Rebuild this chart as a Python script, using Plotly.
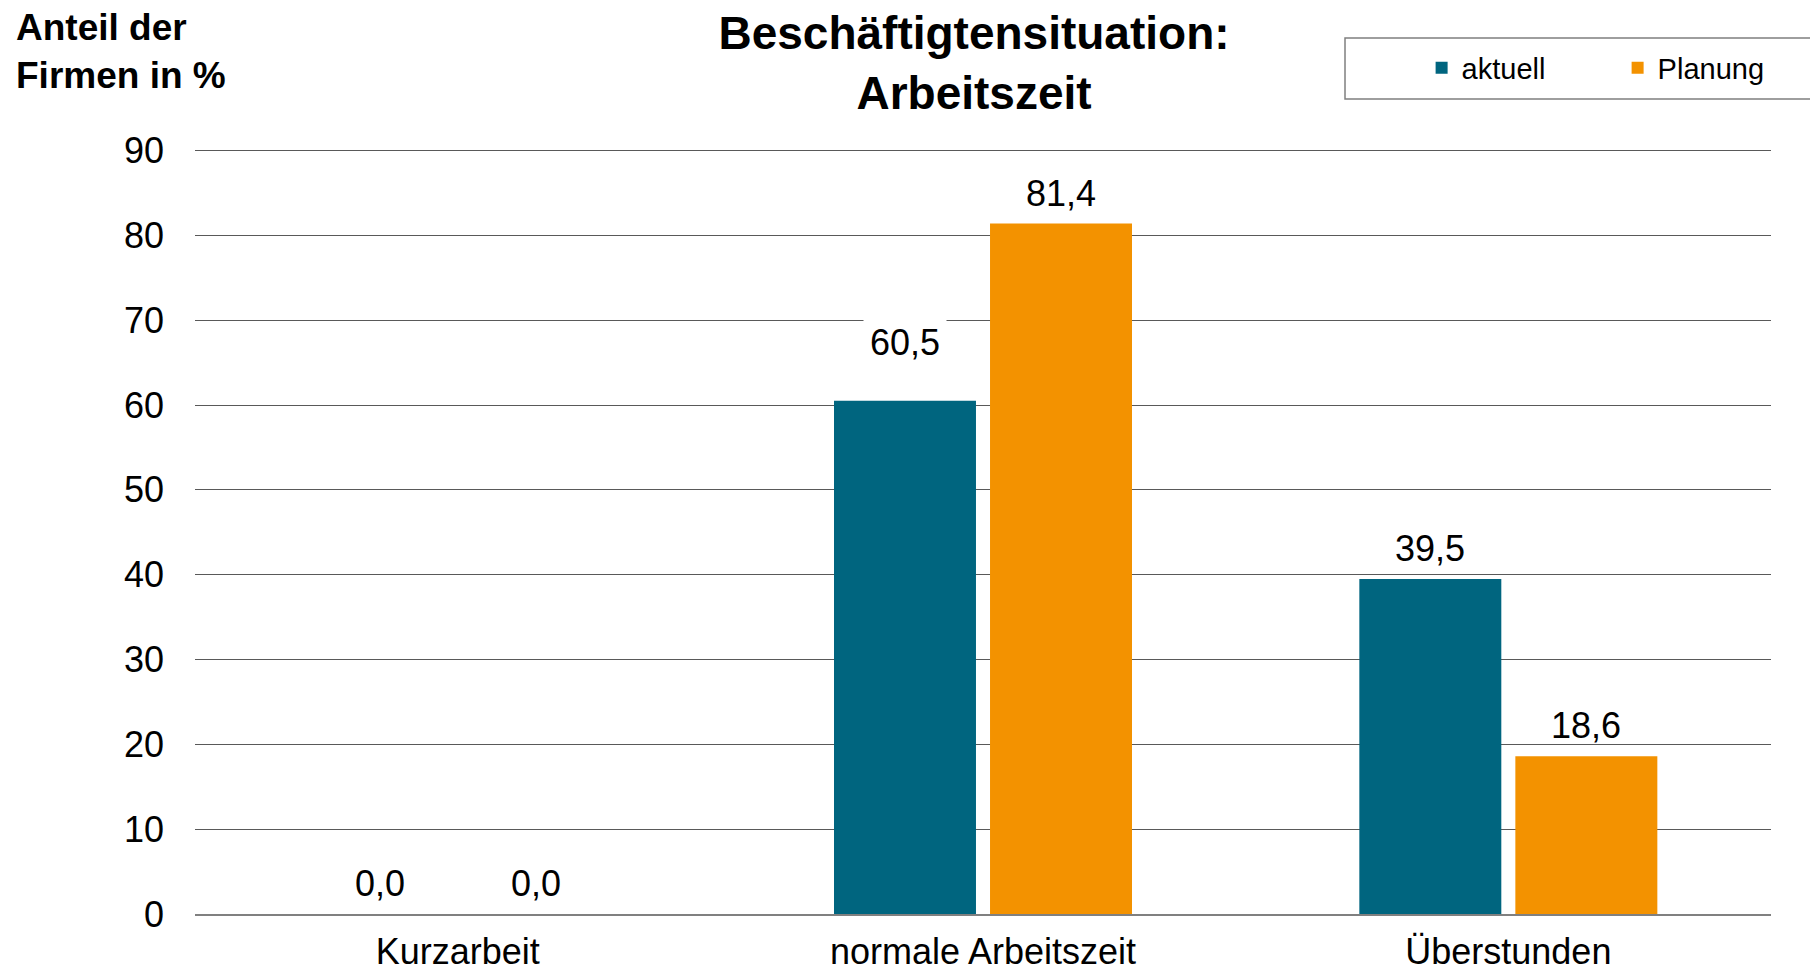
import plotly.graph_objects as go

categories = ["Kurzarbeit", "normale Arbeitszeit", "Überstunden"]
aktuell = [0.0, 60.5, 39.5]
planung = [0.0, 81.4, 18.6]
series_names = ["aktuell", "Planung"]
y_ticks = [0, 10, 20, 30, 40, 50, 60, 70, 80, 90]

# styling
colors = ["#00657F", "#F39200"]
label_lift = [[0, 25, 0], [0, 0, 0]]          # extra pixel lift for manually moved labels
label_bg = [[None, "white", None], [None, None, None]]  # label boxes with white fill
FONT = "Liberation Sans, Arial, sans-serif"
BARGAP = 0.406
BARGROUPGAP = 0.09

fig = go.Figure()
for name, vals, col in zip(series_names, [aktuell, planung], colors):
    fig.add_trace(go.Bar(x=categories, y=vals, name=name, marker_color=col,
                         marker_line_width=0))

def fmt(v):
    return f"{v:.1f}".replace(".", ",")

slot = (1 - BARGAP) / 2
annotations = []
for s, vals in enumerate([aktuell, planung]):
    off = (s - 0.5) * slot
    for i, v in enumerate(vals):
        ann = dict(
            x=i + off, y=v, xref="x", yref="y", text=fmt(v), showarrow=False,
            yanchor="bottom", yshift=6 + label_lift[s][i], borderpad=3,
            font=dict(family=FONT, size=36, color="black"))
        if label_bg[s][i]:
            ann["bgcolor"] = label_bg[s][i]
            ann["borderpad"] = 6
        annotations.append(ann)

annotations.append(dict(
    text="<b>Anteil der<br>Firmen in %</b>", xref="paper", yref="paper",
    x=-0.1146, y=1.126, xanchor="left", yanchor="middle", align="left",
    showarrow=False, font=dict(family=FONT, size=37, color="black")))

fig.update_layout(
    width=1810, height=967,
    margin=dict(l=187, r=47, t=140, b=61, autoexpand=False),
    paper_bgcolor="white", plot_bgcolor="white",
    barmode="group", bargap=BARGAP, bargroupgap=BARGROUPGAP,
    title=dict(text="<b>Beschäftigtensituation:<br>Arbeitszeit</b>",
               x=0.5337, xanchor="center", xref="container",
               y=0.9576, yanchor="middle", yref="container",
               font=dict(family=FONT, size=46, color="black")),
    font=dict(family=FONT, size=36, color="black"),
    showlegend=True,
    legend=dict(orientation="h", x=0.781, xanchor="left", y=0.938, yanchor="middle",
                xref="container", yref="container", bgcolor="rgba(0,0,0,0)", borderwidth=0,
                font=dict(family=FONT, size=29, color="black"), entrywidth=151,
                entrywidthmode="pixels"),
    annotations=annotations,
    shapes=[dict(type="rect", xref="paper", yref="paper", x0=0.7297, x1=1.2,
                 y0=1.064, y1=1.1436, line=dict(color="#7f7f7f", width=1.5),
                 fillcolor="rgba(0,0,0,0)", layer="above")],
)
fig.update_yaxes(range=[0, 90.3], tickvals=y_ticks, showgrid=True, gridcolor="#595959",
                 gridwidth=1.3, zeroline=False, showline=False, ticks="",
                 ticklabelstandoff=30, tickfont=dict(family=FONT, size=36, color="black"))
fig.update_xaxes(showline=True, linecolor="#808080", linewidth=2, ticks="",
                 ticklabelstandoff=5, tickfont=dict(family=FONT, size=36, color="black"))

fig.write_html("out.html")
